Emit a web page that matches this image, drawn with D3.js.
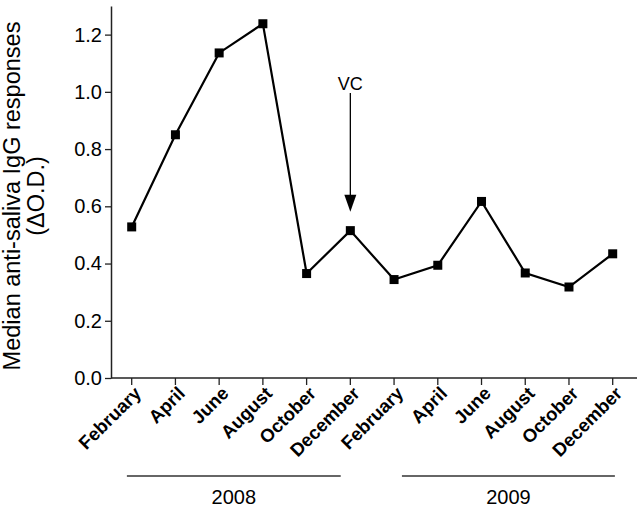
<!DOCTYPE html>
<html>
<head>
<meta charset="utf-8">
<script src="https://cdn.jsdelivr.net/npm/d3@7"></script>
<style>
  body { margin: 0; background: #fff; }
  text { font-family: "Liberation Sans", Arial, sans-serif; fill: #000; }
</style>
</head>
<body>
<div id="chart"></div>
<script>
// data
var months = ["February", "April", "June", "August", "October", "December",
              "February", "April", "June", "August", "October", "December"];
var values = [0.528, 0.850, 1.136, 1.238, 0.365, 0.515,
              0.344, 0.394, 0.617, 0.367, 0.318, 0.434];
var yTicks = [0, 0.2, 0.4, 0.6, 0.8, 1.0, 1.2];
// year brackets, in month-index units (as drawn under the axis)
var years = [{label: "2008", from: -0.11, to: 4.78}, {label: "2009", from: 6.18, to: 11.05}];
var vcIndex = 5;

var W = 642, H = 509;
var plot = {left: 111, top: 6, bottom: 378, right: 637};

var svg = d3.select("#chart").append("svg")
    .attr("width", W).attr("height", H);

var x = d3.scalePoint()
    .domain(d3.range(months.length))
    .range([131.7, 612.7]);
var step = x.step();
function xi(v) { return x(0) + v * step; }

var y = d3.scaleLinear()
    .domain([0, 1.3])
    .range([plot.bottom, plot.top]);

//---------- y axis ----------
var yAxis = svg.append("g")
    .attr("transform", "translate(" + plot.left + ",0)")
    .call(d3.axisLeft(y).tickValues(yTicks).tickFormat(d3.format(".1f"))
          .tickSize(6).tickPadding(3).tickSizeOuter(0));
yAxis.select(".domain").attr("stroke", "#222").attr("stroke-width", 1.5);
yAxis.selectAll(".tick line").attr("stroke", "#222").attr("stroke-width", 1.3);
yAxis.selectAll(".tick text").style("font-size", "20px").attr("fill", "#000")
    .style("font-family", "Liberation Sans, Arial, sans-serif");

//---------- x axis ----------
svg.append("line")
    .attr("x1", plot.left).attr("x2", plot.right)
    .attr("y1", plot.bottom).attr("y2", plot.bottom)
    .attr("stroke", "#222").attr("stroke-width", 1.5);

var xt = svg.append("g").selectAll("g")
    .data(months).enter().append("g");
xt.append("line")
    .attr("x1", function(d, i) { return x(i); })
    .attr("x2", function(d, i) { return x(i); })
    .attr("y1", plot.bottom).attr("y2", plot.bottom + 7)
    .attr("stroke", "#222").attr("stroke-width", 1.3);
xt.append("text")
    .attr("transform", function(d, i) { return "translate(" + (x(i) + 6) + "," + (plot.bottom + 12) + ") rotate(-45)"; })
    .attr("text-anchor", "end")
    .attr("dy", "0.35em")
    .style("font-size", "18.5px")
    .style("font-weight", "bold")
    .text(function(d) { return d; });

//---------- year brackets ----------
var yr = svg.append("g").selectAll("g").data(years).enter().append("g");
yr.append("line")
    .attr("x1", function(d) { return xi(d.from); })
    .attr("x2", function(d) { return xi(d.to); })
    .attr("y1", 476).attr("y2", 476)
    .attr("stroke", "#333").attr("stroke-width", 1.3);
yr.append("text")
    .attr("x", function(d) { return (xi(d.from) + xi(d.to)) / 2; })
    .attr("y", 504)
    .attr("text-anchor", "middle")
    .style("font-size", "20px")
    .text(function(d) { return d.label; });

//---------- y label ----------
var yl = svg.append("text")
    .attr("transform", "translate(20,196) rotate(-90)")
    .attr("text-anchor", "middle")
    .style("font-size", "23.5px");
yl.append("tspan").attr("x", 0).attr("dy", 0).text("Median anti-saliva IgG responses");
yl.append("tspan").attr("x", 0).attr("dy", "1.03em").text("(\u0394O.D.)");

//---------- line + markers ----------
var line = d3.line()
    .x(function(d, i) { return x(i); })
    .y(function(d) { return y(d); });

svg.append("path")
    .datum(values)
    .attr("d", line)
    .attr("fill", "none")
    .attr("stroke", "#000")
    .attr("stroke-width", 2.2);

var ms = 9;
svg.append("g").selectAll("rect")
    .data(values).enter().append("rect")
    .attr("x", function(d, i) { return x(i) - ms / 2; })
    .attr("y", function(d) { return y(d) - ms / 2; })
    .attr("width", ms).attr("height", ms)
    .attr("fill", "#000");

//---------- VC arrow ----------
var vx = x(vcIndex), vTip = y(values[vcIndex]) - 19;
svg.append("line")
    .attr("x1", vx).attr("x2", vx)
    .attr("y1", 93).attr("y2", vTip - 15)
    .attr("stroke", "#000").attr("stroke-width", 1.3);
svg.append("path")
    .attr("d", "M" + (vx - 6) + "," + (vTip - 17) + "L" + (vx + 6) + "," + (vTip - 17) + "L" + vx + "," + vTip + "Z")
    .attr("fill", "#000");
svg.append("text")
    .attr("x", vx).attr("y", 90)
    .attr("text-anchor", "middle")
    .style("font-size", "18px")
    .text("VC");
</script>
</body>
</html>
